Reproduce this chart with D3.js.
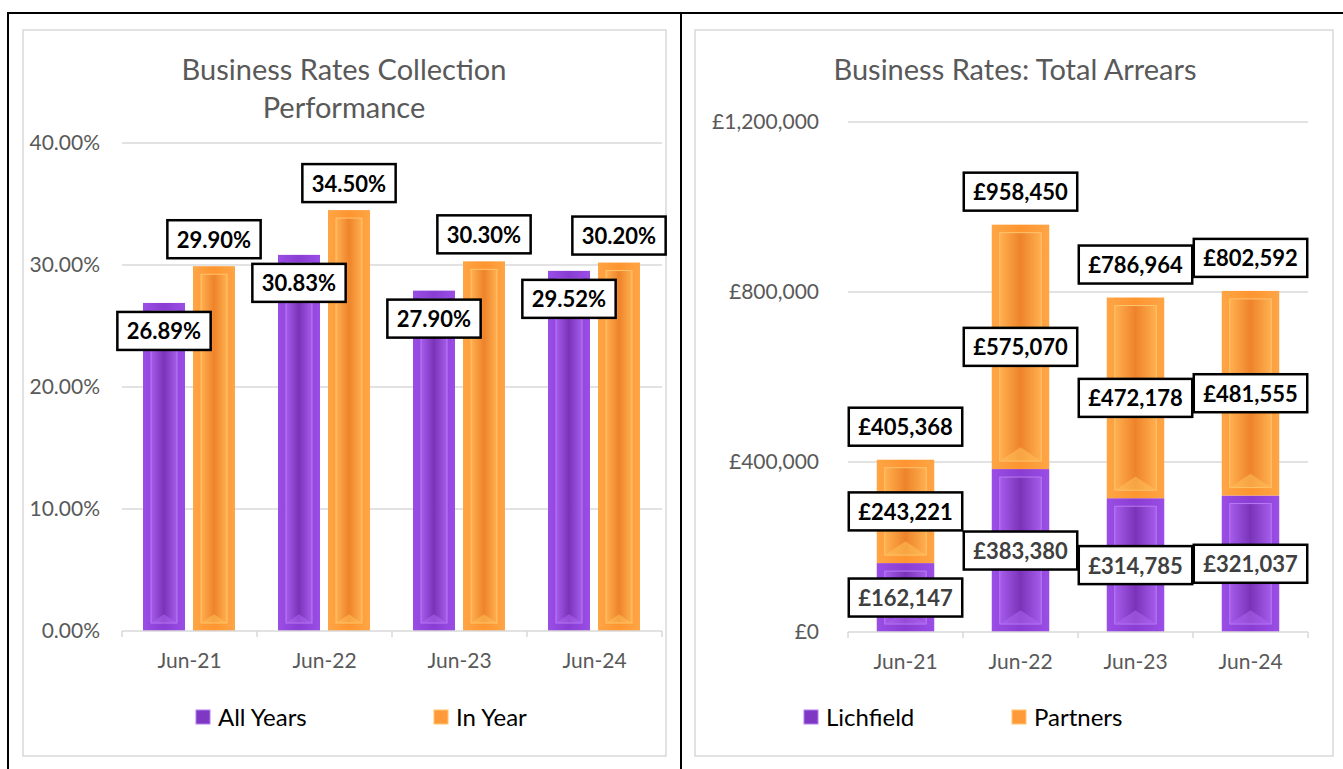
<!DOCTYPE html>
<html>
<head>
<meta charset="utf-8">
<script src="https://cdn.jsdelivr.net/npm/d3@7"></script>
<style>
  body { margin: 0; background: #fff; }
  svg { font-family: Lato, "Open Sans", sans-serif; }
  .tick text { fill: #595959; }
</style>
</head>
<body>
<script>
// data
var months = ["Jun-21", "Jun-22", "Jun-23", "Jun-24"];
var allYears = [26.89, 30.83, 27.90, 29.52];
var inYear = [29.90, 34.50, 30.30, 30.20];
var pctTicks = [0, 10, 20, 30, 40];

var lichfield = [162147, 383380, 314785, 321037];
var partners = [243221, 575070, 472178, 481555];
var totals = [405368, 958450, 786964, 802592];
var gbpTicks = [0, 400000, 800000, 1200000];

var svg = d3.select("body").append("svg")
  .attr("width", 1343)
  .attr("height", 769);

var defs = svg.append("defs");

function makeGrad(id, stops) {
  var g = defs.append("linearGradient").attr("id", id)
    .attr("x1", "0%").attr("x2", "100%").attr("y1", "0%").attr("y2", "0%");
  stops.forEach(function(s) {
    g.append("stop").attr("offset", s[0]).attr("stop-color", s[1]);
  });
}
makeGrad("purpleOuter", [["0%", "#9a4ee6"], ["50%", "#8a3dd2"], ["100%", "#9a4ee6"]]);
makeGrad("purpleInner", [["0%", "#a65cec"], ["50%", "#7a33b8"], ["100%", "#a65cec"]]);
makeGrad("orangeOuter", [["0%", "#ffa545"], ["50%", "#ff9530"], ["100%", "#ffa545"]]);
makeGrad("orangeInner", [["0%", "#ffb050"], ["50%", "#ee832a"], ["100%", "#ffb050"]]);

var colors = {
  purple: {outer: "url(#purpleOuter)", inner: "url(#purpleInner)", edge: "#b77cf2", tri: "#ad64f0", legend: "#7f38c4"},
  orange: {outer: "url(#orangeOuter)", inner: "url(#orangeInner)", edge: "#ffc46e", tri: "#ffbf58", legend: "#ff9a3a"}
};

// outer table borders
svg.append("rect").attr("x", 8).attr("y", 13).attr("width", 1345).attr("height", 780)
  .attr("fill", "none").attr("stroke", "#000").attr("stroke-width", 2);
svg.append("line").attr("x1", 681).attr("x2", 681).attr("y1", 13).attr("y2", 769)
  .attr("stroke", "#000").attr("stroke-width", 2);

// chart frames
svg.append("rect").attr("x", 23).attr("y", 30).attr("width", 643).attr("height", 726)
  .attr("fill", "#fff").attr("stroke", "#d9d9d9").attr("stroke-width", 1.5);
svg.append("rect").attr("x", 695).attr("y", 30).attr("width", 638).attr("height", 726)
  .attr("fill", "#fff").attr("stroke", "#d9d9d9").attr("stroke-width", 1.5);

function drawBar(g, x, y, w, h, c) {
  if (h <= 0) return;
  g.append("rect").attr("x", x).attr("y", y).attr("width", w).attr("height", h)
    .attr("fill", c.outer);
  var inset = Math.min(8, h / 4);
  g.append("rect").attr("x", x + inset).attr("y", y + inset)
    .attr("width", w - 2 * inset).attr("height", Math.max(0, h - 2 * inset))
    .attr("fill", c.inner).attr("stroke", c.edge).attr("stroke-width", 1);
  // bevel highlight at the bottom
  var bx = x + inset, bw = w - 2 * inset, by = y + h - inset;
  if (h - 2 * inset > bw / 2) {
    g.append("path")
      .attr("d", "M" + bx + "," + by + "L" + (bx + bw / 2) + "," + (by - bw / 3) + "L" + (bx + bw) + "," + by + "Z")
      .attr("fill", c.tri).attr("opacity", 0.55);
  }
}

function drawLabel(g, cx, cy, txt, col) {
  var t = g.append("text").attr("x", cx).attr("y", cy)
    .attr("text-anchor", "middle").attr("dominant-baseline", "central")
    .attr("font-size", 22).attr("font-weight", "bold").attr("fill", col).text(txt);
  var w = t.node().getComputedTextLength() + 19;
  g.insert("rect", function() { return t.node(); })
    .attr("x", cx - w / 2).attr("y", cy - 19).attr("width", w).attr("height", 38)
    .attr("fill", "#fff").attr("stroke", "#000").attr("stroke-width", 2.5);
}

// ---------- left chart ----------
var left = svg.append("g");

left.append("text").attr("x", 344).attr("y", 80).attr("text-anchor", "middle")
  .attr("font-size", 29).attr("fill", "#595959").text("Business Rates Collection");
left.append("text").attr("x", 344).attr("y", 118).attr("text-anchor", "middle")
  .attr("font-size", 29).attr("fill", "#595959").text("Performance");

var yL = d3.scaleLinear().domain([0, 40]).range([631, 143]);
var xL = d3.scaleBand().domain(months).range([122, 662]);
var xSubL = d3.scaleBand().domain(["all", "in"]).range([21, 113]).paddingInner(0.16);

left.append("g").selectAll("line").data(pctTicks.slice(1)).enter().append("line")
  .attr("x1", 122).attr("x2", 662)
  .attr("y1", function(d) { return yL(d); }).attr("y2", function(d) { return yL(d); })
  .attr("stroke", "#d9d9d9").attr("stroke-width", 1.5);

left.append("g").attr("transform", "translate(100,0)")
  .call(d3.axisLeft(yL).tickValues(pctTicks).tickSize(0).tickPadding(0)
    .tickFormat(function(d) { return d.toFixed(2) + "%"; }))
  .call(function(g) { g.select(".domain").remove(); })
  .selectAll("text").attr("font-size", 21).attr("font-family", "Lato, sans-serif");

var barsL = left.append("g");
months.forEach(function(m, i) {
  var x0 = xL(m);
  drawBar(barsL, x0 + xSubL("all"), yL(allYears[i]), xSubL.bandwidth(), yL(0) - yL(allYears[i]), colors.purple);
  drawBar(barsL, x0 + xSubL("in"), yL(inYear[i]), xSubL.bandwidth(), yL(0) - yL(inYear[i]), colors.orange);
});

left.append("g").attr("transform", "translate(0,631)")
  .call(d3.axisBottom(xL).tickSize(0).tickPadding(22))
  .call(function(g) {
    g.select(".domain").attr("stroke", "#d9d9d9").attr("stroke-width", 1.5)
      .attr("d", "M122,0H662");
    g.selectAll("text").attr("font-size", 21).attr("font-family", "Lato, sans-serif");
  });
left.append("g").selectAll("line").data(months.concat(["end"])).enter().append("line")
  .attr("x1", function(d) { return d === "end" ? 662 : xL(d); })
  .attr("x2", function(d) { return d === "end" ? 662 : xL(d); })
  .attr("y1", 631).attr("y2", 637).attr("stroke", "#d9d9d9").attr("stroke-width", 1.5);

var labL = left.append("g");
months.forEach(function(m, i) {
  var x0 = xL(m), bw = xSubL.bandwidth();
  drawLabel(labL, x0 + xSubL("all") + bw / 2, yL(allYears[i]) + 28, allYears[i].toFixed(2) + "%", "#000");
  drawLabel(labL, x0 + xSubL("in") + bw / 2, yL(inYear[i]) - 27, inYear[i].toFixed(2) + "%", "#000");
});

// legend
var legL = [["All Years", colors.purple, 196], ["In Year", colors.orange, 434]];
legL.forEach(function(d) {
  left.append("rect").attr("x", d[2]).attr("y", 710).attr("width", 14).attr("height", 14)
    .attr("fill", d[1].legend).attr("stroke", d[1].edge).attr("stroke-width", 1);
  left.append("text").attr("x", d[2] + 22).attr("y", 726).attr("font-size", 24)
    .attr("fill", "#000").text(d[0]);
});

// ---------- right chart ----------
var right = svg.append("g");

right.append("text").attr("x", 1015).attr("y", 80).attr("text-anchor", "middle")
  .attr("font-size", 29).attr("fill", "#595959").text("Business Rates: Total Arrears");

var yR = d3.scaleLinear().domain([0, 1200000]).range([632, 122]);
var xR = d3.scaleBand().domain(months).range([848, 1308]).paddingInner(0.5).paddingOuter(0.25);
var stepR = xR.step();

right.append("g").selectAll("line").data(gbpTicks.slice(1)).enter().append("line")
  .attr("x1", 848).attr("x2", 1308)
  .attr("y1", function(d) { return yR(d); }).attr("y2", function(d) { return yR(d); })
  .attr("stroke", "#d9d9d9").attr("stroke-width", 1.5);

var gbp = d3.format(",");
right.append("g").attr("transform", "translate(819,0)")
  .call(d3.axisLeft(yR).tickValues(gbpTicks).tickSize(0).tickPadding(0)
    .tickFormat(function(d) { return "£" + gbp(d); }))
  .call(function(g) { g.select(".domain").remove(); })
  .selectAll("text").attr("font-size", 21).attr("font-family", "Lato, sans-serif");

var barsR = right.append("g");
months.forEach(function(m, i) {
  var x = xR(m), w = xR.bandwidth();
  drawBar(barsR, x, yR(lichfield[i]), w, yR(0) - yR(lichfield[i]), colors.purple);
  drawBar(barsR, x, yR(lichfield[i] + partners[i]), w, yR(lichfield[i]) - yR(lichfield[i] + partners[i]), colors.orange);
});

right.append("g").attr("transform", "translate(0,632)")
  .call(d3.axisBottom(xR).tickSize(0).tickPadding(22))
  .call(function(g) {
    g.select(".domain").attr("stroke", "#d9d9d9").attr("stroke-width", 1.5)
      .attr("d", "M848,0H1308");
    g.selectAll("text").attr("font-size", 21).attr("font-family", "Lato, sans-serif");
  });
right.append("g").selectAll("line").data(months.concat(["end"])).enter().append("line")
  .attr("x1", function(d) { return d === "end" ? 1308 : xR(d) - stepR / 4; })
  .attr("x2", function(d) { return d === "end" ? 1308 : xR(d) - stepR / 4; })
  .attr("y1", 632).attr("y2", 638).attr("stroke", "#d9d9d9").attr("stroke-width", 1.5);

var labR = right.append("g");
months.forEach(function(m, i) {
  var cx = xR(m) + xR.bandwidth() / 2;
  var top = lichfield[i] + partners[i];
  drawLabel(labR, cx, (yR(0) + yR(lichfield[i])) / 2, "£" + gbp(lichfield[i]), "#404040");
  drawLabel(labR, cx, (yR(lichfield[i]) + yR(top)) / 2, "£" + gbp(partners[i]), "#000");
  drawLabel(labR, cx, yR(totals[i]) - 33, "£" + gbp(totals[i]), "#000");
});

var legR = [["Lichfield", colors.purple, 804], ["Partners", colors.orange, 1012]];
legR.forEach(function(d) {
  right.append("rect").attr("x", d[2]).attr("y", 710).attr("width", 14).attr("height", 14)
    .attr("fill", d[1].legend).attr("stroke", d[1].edge).attr("stroke-width", 1);
  right.append("text").attr("x", d[2] + 22).attr("y", 726).attr("font-size", 24)
    .attr("fill", "#000").text(d[0]);
});
</script>
</body>
</html>
